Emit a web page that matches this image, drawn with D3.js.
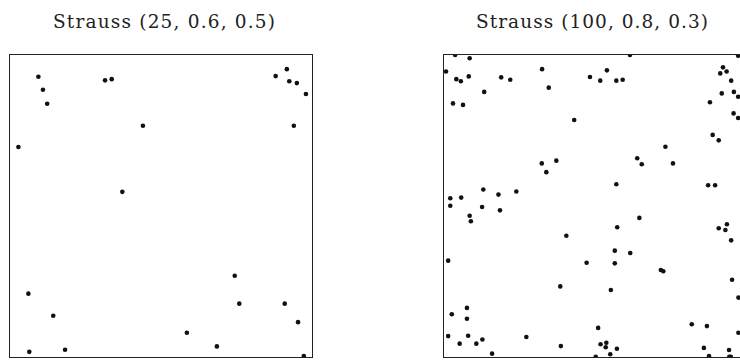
<!DOCTYPE html>
<html>
<head>
<meta charset="utf-8">
<script src="https://cdn.jsdelivr.net/npm/d3@7"></script>
<style>
  body { margin: 0; background: #fff; }
  svg { display: block; }
</style>
</head>
<body>
<svg id="chart" width="740" height="360"></svg>
<script>
// panel titles
const titles = ["Strauss (25, 0.6, 0.5)", "Strauss (100, 0.8, 0.3)"];

// point patterns on the unit square
const strauss25 = [
  [0.097, 0.925], [0.112, 0.882], [0.126, 0.836], [0.317, 0.913], [0.339, 0.917],
  [0.442, 0.763], [0.031, 0.693], [0.374, 0.545], [0.917, 0.950], [0.880, 0.927],
  [0.925, 0.910], [0.950, 0.904], [0.980, 0.868], [0.940, 0.763], [0.064, 0.209],
  [0.146, 0.136], [0.067, 0.017], [0.185, 0.024], [0.745, 0.268], [0.760, 0.176],
  [0.910, 0.176], [0.954, 0.115], [0.587, 0.080], [0.686, 0.035], [0.973, 0.003]
];

const strauss100 = [
  [0.040, 0.997], [0.088, 0.986], [0.010, 0.942], [0.044, 0.917], [0.059, 0.910],
  [0.085, 0.926], [0.192, 0.923], [0.222, 0.915], [0.327, 0.950], [0.349, 0.889],
  [0.485, 0.924], [0.136, 0.875], [0.033, 0.837], [0.066, 0.832], [0.433, 0.782],
  [0.326, 0.639], [0.374, 0.648], [0.341, 0.610], [0.133, 0.553], [0.183, 0.536],
  [0.242, 0.546], [0.024, 0.524], [0.060, 0.526], [0.024, 0.499], [0.129, 0.495],
  [0.188, 0.484], [0.088, 0.466], [0.092, 0.448], [0.407, 0.400], [0.017, 0.318],
  [0.474, 0.311], [0.387, 0.233], [0.079, 0.162], [0.029, 0.141], [0.079, 0.126],
  [0.017, 0.069], [0.083, 0.070], [0.275, 0.066], [0.130, 0.058], [0.055, 0.044],
  [0.110, 0.044], [0.389, 0.036], [0.162, 0.011], [0.617, 0.997], [0.974, 0.994],
  [0.519, 0.912], [0.541, 0.946], [0.572, 0.912], [0.593, 0.915], [0.924, 0.956],
  [0.915, 0.936], [0.936, 0.942], [0.951, 0.912], [0.920, 0.870], [0.960, 0.875],
  [0.974, 0.859], [0.881, 0.841], [0.959, 0.804], [0.974, 0.789], [0.890, 0.733],
  [0.910, 0.715], [0.734, 0.694], [0.641, 0.656], [0.656, 0.636], [0.759, 0.639],
  [0.572, 0.570], [0.875, 0.567], [0.898, 0.567], [0.648, 0.459], [0.575, 0.428],
  [0.910, 0.425], [0.937, 0.438], [0.932, 0.419], [0.951, 0.385], [0.567, 0.351],
  [0.618, 0.343], [0.567, 0.309], [0.719, 0.287], [0.727, 0.283], [0.954, 0.255],
  [0.554, 0.221], [0.975, 0.196], [0.512, 0.096], [0.821, 0.108], [0.871, 0.102],
  [0.975, 0.080], [0.520, 0.042], [0.539, 0.047], [0.537, 0.032], [0.574, 0.027],
  [0.861, 0.030], [0.944, 0.023], [0.552, 0.009], [0.504, 0.001], [0.878, 0.003],
  [0.945, 0.001], [0.950, 0.001]
];

const panels = [
  {title: titles[0], points: strauss25, left: 9, titleX: 164, titleW: 222},
  {title: titles[1], points: strauss100, left: 443, titleX: 592, titleW: 232}
];

const size = 303;
const panelTop = 54;

const svg = d3.select("#chart");

const x = d3.scaleLinear().domain([0, 1]).range([0, size]);
const y = d3.scaleLinear().domain([0, 1]).range([size, 0]);

panels.forEach((p, i) => {
  const g = svg.append("g").attr("transform", `translate(${p.left},${panelTop})`);

  // keep dots inside the window
  g.append("clipPath").attr("id", "clip" + i)
    .append("rect").attr("width", size).attr("height", size);

  g.append("g").attr("clip-path", `url(#clip${i})`)
    .selectAll("circle")
    .data(p.points)
    .join("circle")
      .attr("cx", d => x(d[0]))
      .attr("cy", d => y(d[1]))
      .attr("r", 2.3)
      .attr("fill", "#111");

  g.append("rect")
    .attr("x", 0.5).attr("y", 0.5)
    .attr("width", size).attr("height", size)
    .attr("fill", "none")
    .attr("stroke", "#222")
    .attr("stroke-width", 1);

  // CM-like titles are wide, stretch the spacing to match
  svg.append("text")
    .attr("x", p.titleX)
    .attr("y", 28)
    .attr("text-anchor", "middle")
    .attr("font-family", "'DejaVu Serif', serif")
    .attr("font-size", 18.5)
    .attr("textLength", p.titleW)
    .attr("lengthAdjust", "spacing")
    .attr("fill", "#222")
    .text(p.title);
});
</script>
</body>
</html>
